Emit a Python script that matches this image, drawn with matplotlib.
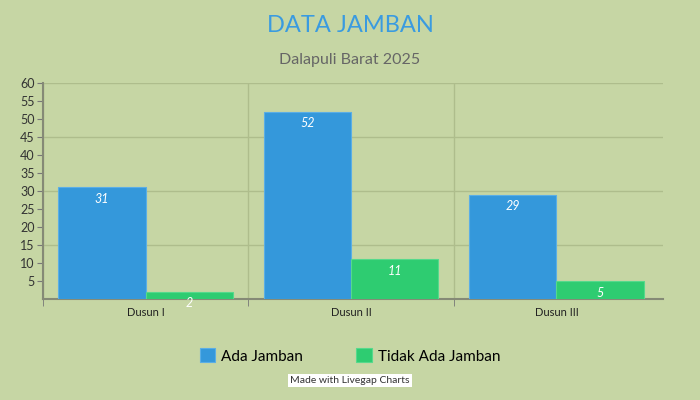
import matplotlib.pyplot as plt
import numpy as np

categories = ['Dusun I', 'Dusun II', 'Dusun III']
ada = [31, 52, 29]
tidak = [2, 11, 5]
series_names = ['Ada Jamban', 'Tidak Ada Jamban']
yticks = list(range(5, 61, 5))
ygrid = [15, 30, 45, 60]

bg = '#c6d6a4'
blue = '#3498db'
green = '#2ecc71'
plt.rcParams['font.family'] = ['Lato', 'DejaVu Sans']

fig = plt.figure(figsize=(7, 4), dpi=100, facecolor=bg)
ax = fig.add_axes([0.0614, 0.2525, 0.886, 0.54])
ax.set_facecolor(bg)

x = np.arange(len(categories))
w = 0.425
b1 = ax.bar(x - w / 2, ada, w, color=blue, edgecolor='#5aaee6', linewidth=0.8, label=series_names[0], zorder=3)
b2 = ax.bar(x + w / 2, tidak, w, color=green, edgecolor='#55d98c', linewidth=0.8, label=series_names[1], zorder=3)

for bars in (b1, b2):
    for r in bars:
        ax.annotate(str(int(r.get_height())), (r.get_x() + r.get_width() / 2, r.get_height()),
                    xytext=(0, -4), textcoords='offset points', ha='center', va='top',
                    color='white', fontsize=9, fontstyle='italic', zorder=5)

# horizontal grid only every 15
for g in ygrid:
    ax.axhline(g, color='#aebd8c', linewidth=1, zorder=0)

ax.set_ylim(0, 60)
ax.set_xlim(-0.5, 2.52)
ax.set_yticks(yticks)
ax.set_xticks(x)
ax.set_xticklabels(categories)
ax.set_xticks([-0.5, 0.5, 1.5], minor=True)
ax.grid(which='minor', axis='x', color='#aebd8c', linewidth=1, zorder=0)
ax.tick_params(axis='y', which='major', length=4, color='#777', labelsize=9, labelcolor='#333', pad=2)
ax.tick_params(axis='x', which='major', length=0, labelsize=8, labelcolor='#222', pad=6)
ax.tick_params(axis='x', which='minor', length=5, color='#777')
for s in ['top', 'right']:
    ax.spines[s].set_visible(False)
for s in ['left', 'bottom']:
    ax.spines[s].set_color('#858a76')
    ax.spines[s].set_linewidth(1.5)

fig.text(0.5, 0.935, 'DATA JAMBAN', ha='center', va='center', fontsize=17, color='#3a9be0')
fig.text(0.5, 0.85, 'Dalapuli Barat 2025', ha='center', va='center', fontsize=11.5, color='#666')

fig.legend(loc='center', bbox_to_anchor=(0.5, 0.11), ncol=2, frameon=False, fontsize=11,
           handlelength=1.0, handleheight=1.0, columnspacing=3.5, handletextpad=0.4)
fig.text(0.5, 0.048, 'Made with Livegap Charts', ha='center', va='center', fontsize=7.5, color='#333',
         bbox=dict(facecolor='white', edgecolor='none', pad=1.5))

fig.savefig('out.png', facecolor=bg)
